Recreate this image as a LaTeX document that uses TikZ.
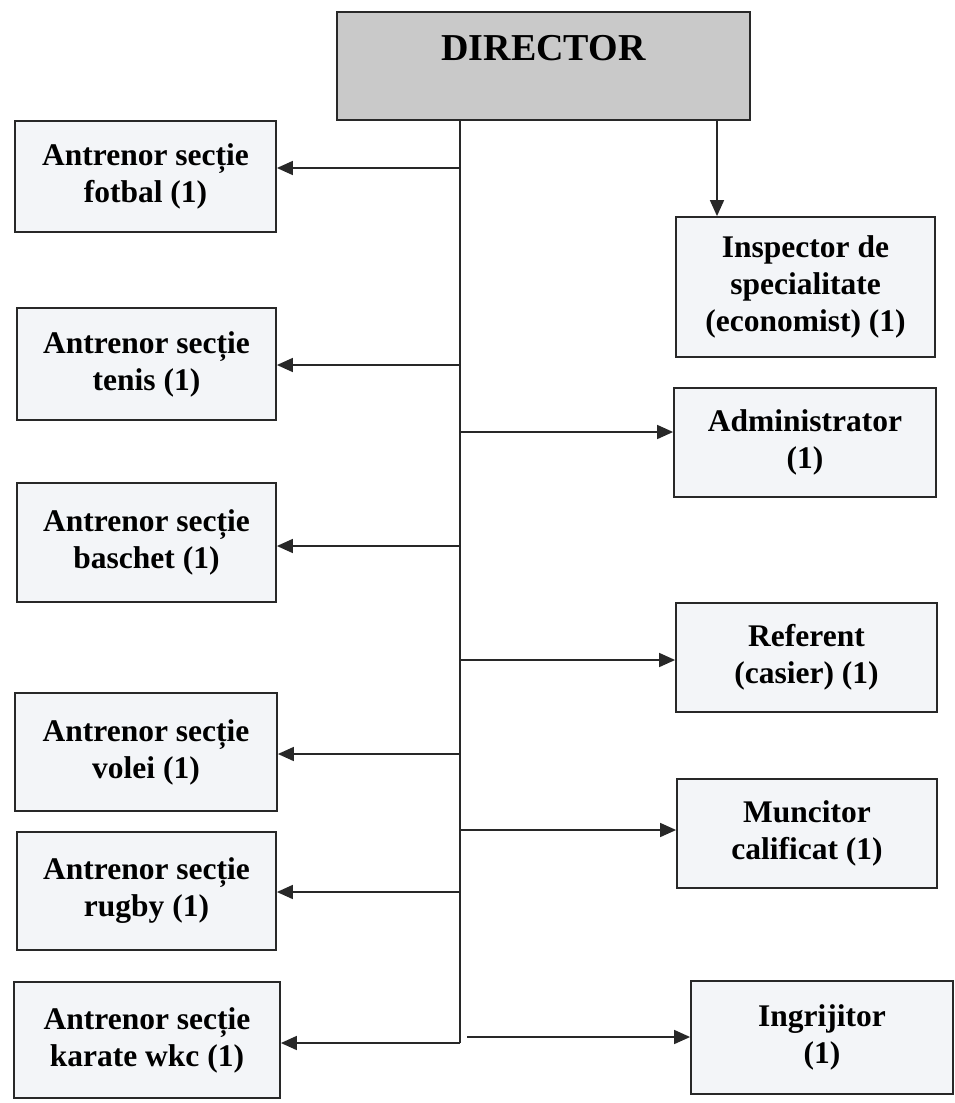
\documentclass[tikz,border=0pt]{standalone}
\usepackage{fontspec}
\setmainfont{Liberation Serif}
\usepackage{tikz}
\usetikzlibrary{arrows.meta,calc}
\definecolor{org_gray}{RGB}{201, 201, 201}
\definecolor{org_pale}{RGB}{243, 245, 248}
\definecolor{org_line}{RGB}{40, 40, 40}
\tikzstyle{dn}=[rectangle,fill=org_gray,draw=org_line,line width=1.8pt,inner sep=0pt,
  minimum width=413pt,text height=48pt,text depth=60pt,
  font=\fontsize{38}{44}\selectfont\bfseries]
\tikzstyle{bn}=[rectangle,fill=org_pale,draw=org_line,line width=1.8pt,inner sep=2pt,
  align=center,font=\fontsize{31.5}{37}\selectfont\bfseries]
\tikzstyle{ln}=[draw=org_line,line width=1.6pt]
\tikzstyle{an}=[ln,-{Triangle[length=16pt,width=14pt]}]
\tikzstyle{none}=[inner sep=0pt,minimum size=0pt]

\begin{document}
\begin{tikzpicture}[x=1pt, y=-1pt]
            \useasboundingbox (0, 0) rectangle (954, 1103);
            \node [style=dn] (0) at (543.5, 66) {DIRECTOR};
            \node [style=bn, minimum width=261pt, minimum height=111pt] (1) at (145.5, 176.5) {Antrenor secție\\fotbal (1)};
            \node [style=bn, minimum width=259pt, minimum height=112pt] (2) at (146.5, 364) {Antrenor secție\\tenis (1)};
            \node [style=bn, minimum width=259pt, minimum height=119pt] (3) at (146.5, 542.5) {Antrenor secție\\baschet (1)};
            \node [style=bn, minimum width=262pt, minimum height=118pt] (4) at (146, 752) {Antrenor secție\\volei (1)};
            \node [style=bn, minimum width=259pt, minimum height=118pt] (5) at (146.5, 891) {Antrenor secție\\rugby (1)};
            \node [style=bn, minimum width=266pt, minimum height=116pt] (6) at (147, 1040) {Antrenor secție\\karate wkc (1)};
            \node [style=bn, minimum width=259pt, minimum height=140pt] (7) at (805.5, 287) {Inspector de\\specialitate\\(economist) (1)};
            \node [style=bn, minimum width=262pt, minimum height=109pt] (8) at (805, 442.5) {Administrator\\(1)};
            \node [style=bn, minimum width=261pt, minimum height=109pt] (9) at (806.5, 657.5) {Referent\\(casier) (1)};
            \node [style=bn, minimum width=260pt, minimum height=109pt] (10) at (807, 833.5) {Muncitor\\calificat (1)};
            \node [style=bn, minimum width=262pt, minimum height=113pt] (11) at (822, 1037.5) {Ingrijitor\\(1)};
            \node [style=none] (12) at (460, 120) {};
            \node [style=none] (13) at (460, 168) {};
            \node [style=none] (14) at (460, 365) {};
            \node [style=none] (15) at (460, 432) {};
            \node [style=none] (16) at (460, 546) {};
            \node [style=none] (17) at (460, 660) {};
            \node [style=none] (18) at (460, 754) {};
            \node [style=none] (19) at (460, 830) {};
            \node [style=none] (20) at (460, 892) {};
            \node [style=none] (21) at (460, 1043) {};
            \node [style=none] (22) at (467, 1037) {};
            \node [style=none] (23) at (717, 120) {};
            \draw [style=ln] (12.center) to (21.center);
            \draw [style=an] (13.center) to (13 -| 1.east);
            \draw [style=an] (14.center) to (14 -| 2.east);
            \draw [style=an] (16.center) to (16 -| 3.east);
            \draw [style=an] (18.center) to (18 -| 4.east);
            \draw [style=an] (20.center) to (20 -| 5.east);
            \draw [style=an] (21.center) to (21 -| 6.east);
            \draw [style=an] (23.center) to (23 |- 7.north);
            \draw [style=an] (15.center) to (15 -| 8.west);
            \draw [style=an] (17.center) to (17 -| 9.west);
            \draw [style=an] (19.center) to (19 -| 10.west);
            \draw [style=an] (22.center) to (22 -| 11.west);
    \end{tikzpicture}
\end{document}
